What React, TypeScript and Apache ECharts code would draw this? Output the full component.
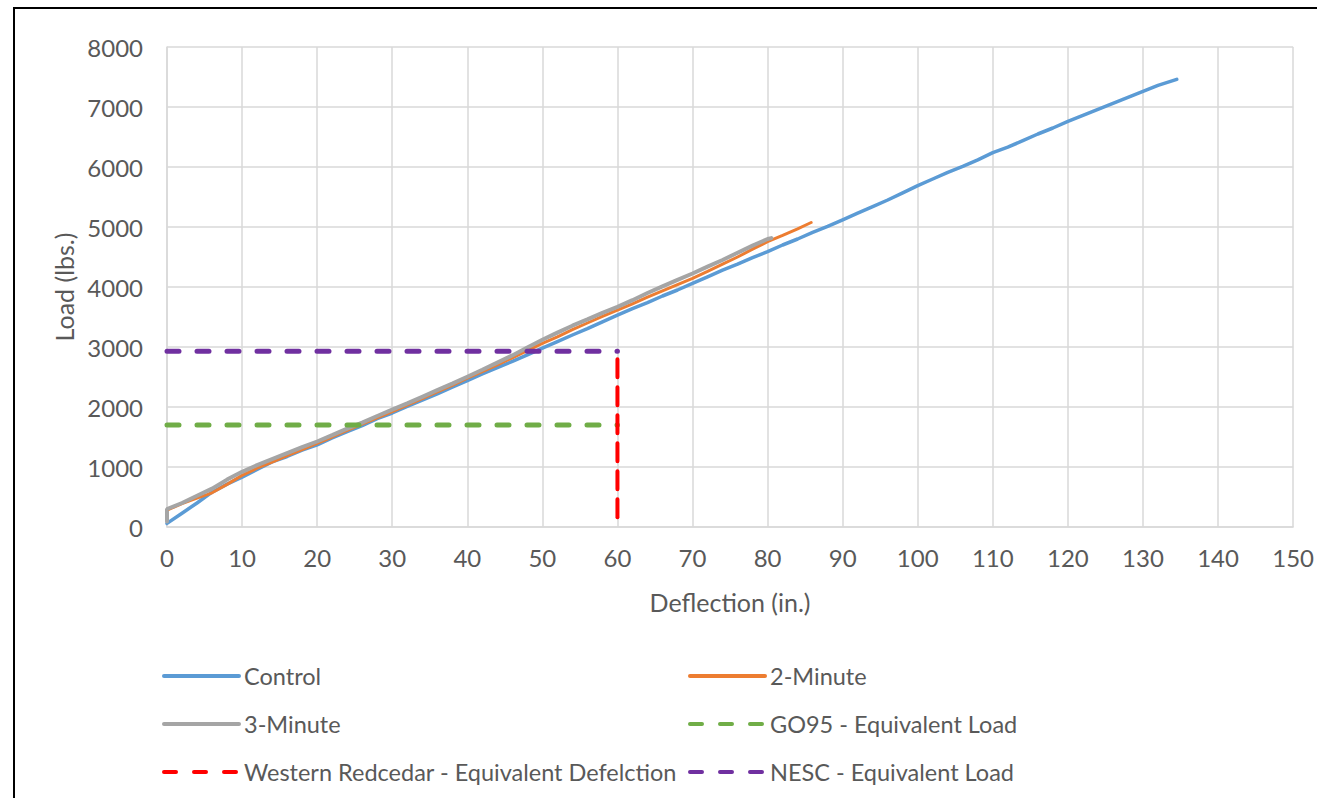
import React, { useEffect, useRef } from "react";
import * as echarts from "echarts";

const xTicks = { min: 0, max: 150, interval: 10 };
const yTicks = { min: 0, max: 8000, interval: 1000 };

const controlData: [number, number][] = [
  [0, 60], [2, 230], [4, 400], [6, 580], [8, 715], [10, 830], [12, 960], [14, 1085],
  [16, 1175], [18, 1280], [20, 1370], [22, 1485], [24, 1590], [26, 1690], [28, 1805],
  [30, 1900], [32, 2010], [34, 2115], [36, 2220], [38, 2330], [40, 2440], [42, 2550],
  [44, 2655], [46, 2760], [48, 2870], [50, 2980], [52, 3090], [54, 3200], [56, 3305],
  [58, 3420], [60, 3530], [62, 3640], [64, 3740], [66, 3850], [68, 3950], [70, 4060],
  [72, 4170], [74, 4280], [76, 4380], [78, 4490], [80, 4590], [82, 4700], [84, 4800],
  [86, 4910], [88, 5010], [90, 5120], [92, 5230], [94, 5340], [96, 5450], [98, 5570],
  [100, 5690], [102, 5800], [104, 5910], [106, 6010], [108, 6120], [110, 6240],
  [112, 6330], [114, 6440], [116, 6550], [118, 6650], [120, 6760], [122, 6860],
  [124, 6960], [126, 7060], [128, 7160], [130, 7260], [132, 7360], [134.5, 7460],
];

const twoMinuteData: [number, number][] = [
  [0, 280], [2, 390], [4, 480], [6, 570], [8, 710], [10, 860], [12, 980], [14, 1080],
  [16, 1190], [18, 1290], [20, 1395], [22, 1500], [24, 1610], [26, 1715], [28, 1820],
  [30, 1925], [32, 2030], [34, 2140], [36, 2250], [38, 2360], [40, 2480], [42, 2590],
  [44, 2700], [46, 2820], [48, 2940], [50, 3060], [52, 3170], [54, 3290], [56, 3400],
  [58, 3510], [60, 3615], [62, 3720], [64, 3830], [66, 3935], [68, 4040], [70, 4145],
  [72, 4260], [74, 4380], [76, 4500], [78, 4630], [80, 4755], [82, 4860], [84, 4970],
  [85.8, 5075],
];

const threeMinuteData: [number, number][] = [
  [0, 90], [0, 300], [2, 400], [4, 520], [6, 640], [8, 790], [10, 920], [12, 1030],
  [14, 1130], [16, 1230], [18, 1330], [20, 1425], [22, 1530], [24, 1640], [26, 1740],
  [28, 1850], [30, 1955], [32, 2060], [34, 2170], [36, 2280], [38, 2390], [40, 2505],
  [42, 2620], [44, 2740], [46, 2860], [48, 2990], [50, 3120], [52, 3240], [54, 3355],
  [56, 3460], [58, 3570], [60, 3670], [62, 3780], [64, 3900], [66, 4010], [68, 4120],
  [70, 4225], [72, 4340], [74, 4450], [76, 4570], [78, 4690], [80, 4800], [80.5, 4815],
];

const go95Data: [number, number][] = [[0, 1700], [60, 1700]];
const redcedarData: [number, number][] = [[60, 2930], [60, 0]];
const nescData: [number, number][] = [[0, 2930], [60, 2930]];

const seriesNames = [
  "Control",
  "2-Minute",
  "3-Minute",
  "GO95 - Equivalent Load",
  "Western Redcedar - Equivalent Defelction",
  "NESC - Equivalent Load",
];

const FONT = "Lato, 'Open Sans', sans-serif";
const TEXT = "#595959";
const GRID = "#d9d9d9";

export default function App() {
  const ref = useRef<HTMLDivElement>(null);
  useEffect(() => {
    if (!ref.current) return;
    const chart = echarts.init(ref.current, undefined, { renderer: "svg" });
    const legendBase = {
      orient: "vertical" as const,
      top: 664,
      padding: 0,
      itemWidth: 75,
      itemHeight: 20,
      itemGap: 24,
      itemStyle: { opacity: 0, borderWidth: 0 },
      textStyle: { color: TEXT, fontSize: 23.5, fontFamily: FONT },
      lineStyle: { width: 4, cap: "round", opacity: 1 },
      selectedMode: false,
    };
    chart.setOption({
      animation: false,
      backgroundColor: "#ffffff",
      textStyle: { fontFamily: FONT },
      grid: { left: 167, right: 20, top: 47, bottom: 271, containLabel: false },
      xAxis: {
        type: "value",
        ...xTicks,
        name: "Deflection (in.)",
        nameLocation: "middle",
        nameGap: 62,
        nameTextStyle: { color: TEXT, fontSize: 25, fontFamily: FONT },
        axisLine: { show: true, lineStyle: { color: GRID, width: 1.5 } },
        axisTick: { show: false },
        axisLabel: { color: TEXT, fontSize: 24, fontFamily: FONT, margin: 18 },
        splitLine: { show: true, lineStyle: { color: GRID, width: 1.5 } },
      },
      yAxis: {
        type: "value",
        ...yTicks,
        name: "Load (lbs.)",
        nameLocation: "middle",
        nameGap: 86,
        nameTextStyle: { color: TEXT, fontSize: 25, fontFamily: FONT },
        axisLine: { show: true, lineStyle: { color: GRID, width: 1.5 } },
        axisTick: { show: false },
        axisLabel: {
          color: TEXT,
          fontSize: 24,
          fontFamily: FONT,
          margin: 24,
          formatter: (v: number) => String(v),
        },
        splitLine: { show: true, lineStyle: { color: GRID, width: 1.5 } },
      },
      legend: [
        {
          ...legendBase,
          left: 162,
          data: [
            seriesNames[0],
            seriesNames[2],
            { name: seriesNames[4], lineStyle: { type: [12, 18], dashOffset: 0, width: 4, cap: "round" } },
          ],
        },
        { ...legendBase, left: 688, data: [seriesNames[1], seriesNames[3], seriesNames[5]] },
      ],
      graphic: [
        {
          type: "rect",
          shape: { x: 14, y: 8, width: 1400, height: 900 },
          style: { fill: "none", stroke: "#000000", lineWidth: 2 },
          silent: true,
        },
      ],
      series: [
        {
          name: seriesNames[0],
          type: "line",
          data: controlData,
          symbol: "none",
          color: "#5b9bd5",
          lineStyle: { color: "#5b9bd5", width: 3.5, cap: "round" },
          z: 2,
        },
        {
          name: seriesNames[1],
          type: "line",
          data: twoMinuteData,
          symbol: "none",
          color: "#ed7d31",
          lineStyle: { color: "#ed7d31", width: 3, cap: "round" },
          z: 3,
        },
        {
          name: seriesNames[2],
          type: "line",
          data: threeMinuteData,
          symbol: "none",
          color: "#a5a5a5",
          lineStyle: { color: "#a5a5a5", width: 4, cap: "round" },
          z: 4,
        },
        {
          name: seriesNames[3],
          type: "line",
          data: go95Data,
          symbol: "none",
          color: "#70ad47",
          lineStyle: { color: "#70ad47", width: 5, type: [12, 18], cap: "round" },
          z: 5,
        },
        {
          name: seriesNames[4],
          type: "line",
          data: redcedarData,
          symbol: "none",
          color: "#ff0000",
          lineStyle: { color: "#ff0000", width: 4, type: [18, 10], dashOffset: -8, cap: "round" },
          z: 5,
        },
        {
          name: seriesNames[5],
          type: "line",
          data: nescData,
          symbol: "none",
          color: "#7030a0",
          lineStyle: { color: "#7030a0", width: 5, type: [12, 18], cap: "round" },
          z: 6,
        },
      ],
    });
    return () => chart.dispose();
  }, []);
  return (
    <div
      ref={ref}
      style={{ position: "fixed", left: 0, top: 0, width: 1317, height: 798, background: "#fff" }}
    />
  );
}
